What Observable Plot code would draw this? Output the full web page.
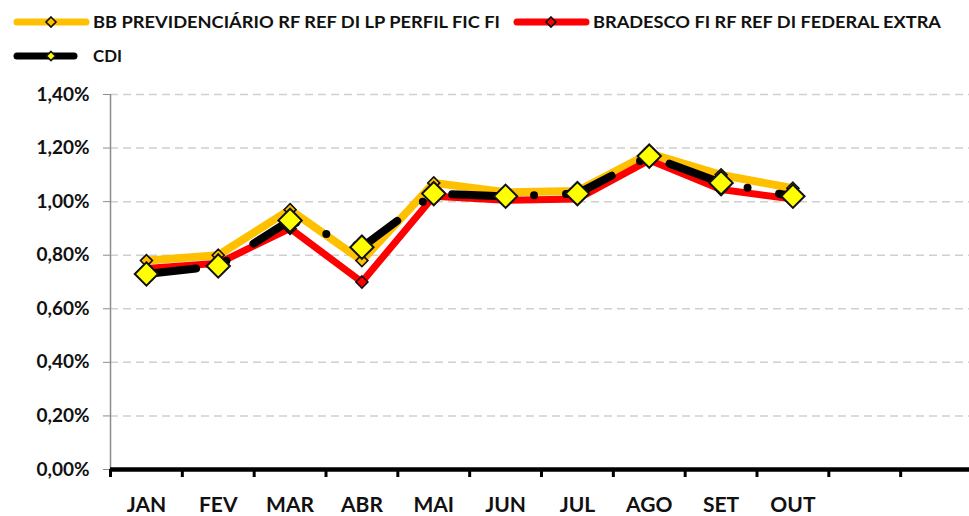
<!DOCTYPE html>
<html>
<head>
<meta charset="utf-8">
<script src="https://cdn.jsdelivr.net/npm/d3@7"></script>
<script src="https://cdn.jsdelivr.net/npm/@observablehq/plot@0.6"></script>
<style>
  html, body { margin: 0; padding: 0; background: #fff; }
  #chart { width: 969px; height: 516px; overflow: hidden; font-family: Lato, "Open Sans", sans-serif; }
  svg { display: block; }
</style>
</head>
<body>
<div id="chart"></div>
<script>
const months = ["JAN","FEV","MAR","ABR","MAI","JUN","JUL","AGO","SET","OUT"];
const slotCount = 12;
const bbName = "BB PREVIDENCIÁRIO RF REF DI LP PERFIL FIC FI";
const bradName = "BRADESCO FI RF REF DI FEDERAL EXTRA";
const cdiName = "CDI";
const bb       = [0.78, 0.80, 0.97, 0.78, 1.07, 1.035, 1.04, 1.18, 1.10, 1.05];
const bradesco = [0.75, 0.77, 0.90, 0.70, 1.02, 1.005, 1.01, 1.155, 1.045, 1.01];
const cdi      = [0.73, 0.76, 0.93, 0.83, 1.03, 1.02, 1.03, 1.17, 1.07, 1.02];
const yTicks = [0, 0.2, 0.4, 0.6, 0.8, 1.0, 1.2, 1.4];

const ORANGE = "#FFC000", RED = "#FF0000", YEL = "#FFFF00";
const FONT = "Lato, 'Open Sans', sans-serif";

const toRows = (vals) => vals.map((v, i) => ({pos: i + 0.5, month: months[i], v}));
const bbRows = toRows(bb), brRows = toRows(bradesco), cdiRows = toRows(cdi);

const chart = d3.select("#chart");

// Legend above the plot
const leg = chart.append("svg").attr("width", 969).attr("height", 75);
function legendItem(x0, x1, cx, y, color, w, markerFill, r, label, tx, textW) {
  leg.append("line").attr("x1", x0).attr("x2", x1).attr("y1", y).attr("y2", y)
    .attr("stroke", color).attr("stroke-width", w).attr("stroke-linecap", "round");
  leg.append("path").attr("d", `M${cx},${y - r}L${cx + r},${y}L${cx},${y + r}L${cx - r},${y}Z`)
    .attr("fill", markerFill).attr("stroke", "#111").attr("stroke-width", 1.6);
  leg.append("text").attr("x", tx).attr("y", y + 6)
    .attr("font-family", FONT).attr("font-weight", "bold").attr("font-size", 17.5)
    .attr("fill", "#111").attr("textLength", textW).attr("lengthAdjust", "spacingAndGlyphs").text(label);
}
legendItem(17, 86, 51, 22, ORANGE, 7, ORANGE, 5, bbName, 93, 407);
legendItem(517, 586, 551, 22, RED, 7, RED, 5, bradName, 593, 348);
legendItem(17, 74, 51, 56, "#000", 7, YEL, 4.5, cdiName, 93, 29);

const fmt = d => d.toFixed(2).replace(".", ",") + "%";

const plot = Plot.plot({
  width: 969,
  height: 441,
  marginTop: 19,
  marginBottom: 47,
  marginLeft: 110,
  marginRight: 0,
  style: {fontFamily: FONT, fontWeight: "bold", color: "#111", background: "#fff", overflow: "visible"},
  x: {domain: [0, slotCount], range: [110, 972], label: null},
  y: {domain: [0, 1.4], label: null},
  marks: [
    Plot.ruleY(yTicks.filter(d => d > 0), {x1: 0, x2: slotCount, stroke: "#d0d0d0", strokeWidth: 1.5, strokeDasharray: "8,5"}),
    Plot.ruleX([0], {y1: 0, y2: 1.4, stroke: "#8c8c8c", strokeWidth: 1.5}),
    Plot.axisY(yTicks, {tickFormat: fmt, tickSize: 7, tickPadding: 14, fontSize: 19, stroke: "#8c8c8c", label: null}),
    Plot.axisX(d3.range(0, slotCount + 1), {tickSize: 8, tickFormat: () => "", strokeWidth: 3, stroke: "#000", label: null}),
    Plot.ruleY([0], {x1: 0, x2: slotCount, stroke: "#000", strokeWidth: 4.5}),
    Plot.axisX(months.map((m, i) => i + 0.5), {tickSize: 0, tickPadding: 28, fontSize: 21, tickFormat: d => months[Math.floor(d)], label: null}),
    // BB
    Plot.line(bbRows, {x: "pos", y: "v", stroke: ORANGE, strokeWidth: 8, strokeLinejoin: "miter"}),
    Plot.dot(bbRows, {x: "pos", y: "v", symbol: "diamond2", r: 5.4, fill: ORANGE, stroke: "#111", strokeWidth: 1.6}),
    // Bradesco
    Plot.line(brRows, {x: "pos", y: "v", stroke: RED, strokeWidth: 7, strokeLinejoin: "miter"}),
    Plot.dot(brRows, {x: "pos", y: "v", symbol: "diamond2", r: 5.4, fill: RED, stroke: "#111", strokeWidth: 1.6}),
    // CDI
    Plot.line(cdiRows, {x: "pos", y: "v", stroke: "#000", strokeWidth: 8, strokeLinecap: "round", strokeDasharray: "50,32,0,32"}),
    Plot.dot(cdiRows, {x: "pos", y: "v", symbol: "diamond2", r: 10.5, fill: YEL, stroke: "#111", strokeWidth: 2})
  ]
});
chart.node().appendChild(plot);
</script>
</body>
</html>
